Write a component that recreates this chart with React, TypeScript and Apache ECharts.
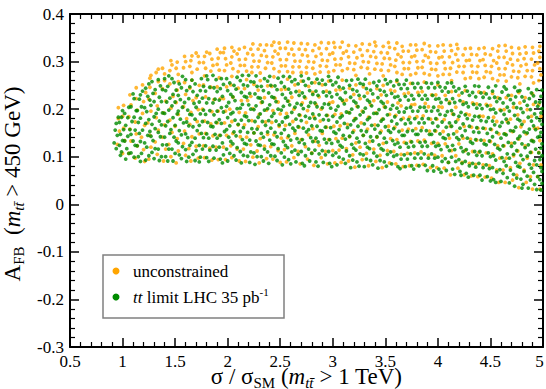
import React, { useEffect, useRef } from "react";
import * as echarts from "echarts";

// Points stored as [x*100, y*1000] flat pairs.
const GREEN_XY: number[] = [
94,117, 92,129, 95,145, 93,156, 94,170, 96,183,
98,103, 99,110, 97,124, 100,134, 98,147, 101,157, 97,172, 99,183, 100,197,
103,95, 106,107, 104,117, 102,133, 105,143, 107,157, 103,166, 105,182, 102,191, 106,204,
111,99, 108,108, 112,124, 110,133, 108,147, 112,156, 109,174, 111,183, 113,197, 108,205, 111,222, 110,232,
117,90, 115,100, 118,107, 114,123, 117,132, 116,149, 119,156, 115,172, 117,181, 114,197, 118,205, 116,221, 117,230, 119,238,
122,93, 125,102, 123,120, 121,129, 124,145, 126,153, 122,170, 125,178, 123,195, 121,203, 126,219, 124,227, 122,244, 125,253,
130,96, 128,109, 131,117, 129,134, 127,143, 131,159, 128,168, 130,184, 132,191, 127,208, 130,216, 129,233, 131,241, 128,258,
135,92, 137,100, 134,116, 138,125, 136,142, 134,151, 137,167, 135,175, 138,192, 134,200, 137,216, 135,225, 138,241, 136,249, 134,262,
143,91, 141,100, 144,116, 142,125, 140,141, 145,149, 141,165, 143,174, 140,191, 144,198, 142,215, 145,223, 141,239, 143,248, 140,264, 144,270,
148,91, 150,107, 147,116, 151,133, 149,141, 146,157, 150,166, 148,182, 152,190, 147,207, 150,215, 148,231, 151,240, 149,256, 147,264,
156,96, 154,104, 157,121, 153,129, 156,146, 154,155, 158,171, 155,179, 153,196, 157,204, 155,220, 153,229, 156,245, 154,253, 157,269,
161,90, 163,99, 160,115, 164,124, 162,140, 160,148, 163,165, 161,173, 164,189, 162,198, 159,214, 163,222, 161,239, 164,247, 160,262,
169,92, 167,105, 170,113, 166,130, 169,139, 171,155, 167,163, 169,179, 166,188, 170,204, 168,212, 171,229, 167,237, 169,253, 166,261,
173,89, 174,99, 176,116, 173,124, 177,140, 175,149, 173,166, 176,174, 174,190, 177,198, 173,215, 176,223, 174,239, 177,248, 175,264,
182,90, 180,98, 183,114, 179,123, 182,139, 180,148, 184,164, 181,172, 179,189, 183,197, 180,213, 182,222, 179,238, 183,246, 181,262, 180,270,
187,97, 189,114, 186,122, 190,139, 188,147, 186,163, 189,172, 187,188, 190,196, 186,213, 188,221, 190,237, 187,245, 189,262, 186,271,
195,87, 193,95, 196,104, 192,120, 195,129, 193,145, 197,153, 194,170, 192,178, 196,194, 194,203, 192,219, 195,227, 193,243, 196,252, 194,264,
200,91, 202,107, 199,116, 203,132, 201,141, 199,157, 202,165, 200,182, 203,190, 199,206, 201,214, 203,231, 200,239, 202,255, 199,264,
208,93, 206,102, 209,119, 205,127, 208,144, 206,152, 210,168, 207,177, 205,193, 209,201, 207,218, 205,226, 208,242, 206,250, 209,267,
213,87, 215,103, 212,111, 216,128, 214,136, 212,153, 215,161, 213,177, 216,186, 212,202, 214,210, 216,227, 213,235, 215,251, 212,260, 214,271,
221,88, 219,101, 222,110, 218,126, 221,135, 219,151, 223,159, 220,176, 218,184, 222,200, 220,209, 218,225, 221,233, 219,249, 222,258, 220,271,
226,84, 228,100, 225,108, 229,125, 227,133, 225,150, 228,158, 226,174, 229,183, 225,199, 227,207, 229,224, 226,232, 228,248, 225,257, 227,270,
234,91, 232,100, 235,116, 231,124, 234,141, 232,149, 236,166, 233,174, 231,190, 235,198, 233,215, 231,223, 234,239, 232,248, 235,264,
239,86, 241,102, 238,110, 242,127, 240,135, 238,152, 241,160, 239,176, 242,185, 238,201, 240,209, 242,226, 239,234, 241,250, 238,259, 240,269,
247,92, 245,101, 248,117, 244,126, 247,142, 245,151, 249,167, 246,175, 244,191, 248,200, 246,216, 244,224, 247,241, 245,249, 248,265,
252,83, 254,99, 251,108, 255,124, 253,132, 251,149, 254,157, 252,173, 255,182, 251,198, 253,206, 255,223, 252,231, 254,247, 251,256, 253,269,
260,85, 258,94, 261,110, 257,119, 260,135, 258,144, 262,160, 259,168, 257,184, 261,193, 259,209, 257,217, 260,234, 258,242, 261,258, 259,268,
265,89, 267,105, 264,114, 268,130, 266,138, 264,155, 267,163, 265,179, 268,188, 264,204, 266,212, 268,229, 265,237, 267,253, 264,262,
273,81, 271,86, 274,102, 270,111, 273,127, 271,136, 275,152, 272,160, 270,176, 274,185, 272,201, 270,209, 273,226, 271,234, 274,250, 272,259, 270,270,
278,91, 280,107, 277,116, 281,132, 279,140, 277,157, 280,165, 278,181, 281,190, 277,206, 279,214, 281,231, 278,239, 280,255, 277,264,
286,80, 284,89, 287,106, 283,114, 286,131, 284,139, 288,155, 285,164, 283,180, 287,188, 285,205, 283,213, 286,229, 284,238, 287,254, 285,263,
291,88, 293,104, 290,113, 294,129, 292,137, 290,154, 293,162, 291,178, 294,187, 290,203, 292,211, 294,228, 291,236, 293,252, 290,261,
299,79, 297,86, 300,103, 296,111, 299,128, 297,136, 301,152, 298,161, 296,177, 300,185, 298,202, 296,210, 299,226, 297,235, 300,251, 298,260, 296,269,
304,83, 306,99, 303,108, 307,124, 305,132, 303,149, 306,157, 304,173, 307,182, 303,198, 305,206, 307,223, 304,231, 306,247, 303,256, 305,267,
312,86, 310,95, 313,112, 309,120, 312,137, 310,145, 314,161, 311,170, 309,186, 313,194, 311,211, 309,219, 312,235, 310,244, 313,260,
317,77, 319,93, 316,102, 320,118, 318,126, 316,143, 319,151, 317,167, 320,176, 316,192, 318,200, 320,217, 317,225, 319,241, 316,250, 318,261,
325,80, 323,89, 326,106, 322,114, 325,131, 323,139, 327,155, 324,164, 322,180, 326,188, 324,205, 322,213, 325,229, 323,238, 326,254, 324,263,
330,79, 332,95, 329,104, 333,120, 331,128, 329,145, 332,153, 330,169, 333,178, 329,194, 331,202, 333,219, 330,227, 332,243, 329,252, 331,263,
338,83, 336,92, 339,108, 335,117, 338,133, 336,142, 340,158, 337,166, 335,182, 339,191, 337,207, 335,215, 338,232, 336,240, 339,256,
343,76, 345,92, 342,101, 346,117, 344,125, 342,142, 345,150, 343,166, 346,175, 342,191, 344,199, 346,216, 343,224, 345,240, 342,249, 344,259,
351,80, 349,89, 352,105, 348,114, 351,130, 349,139, 353,155, 350,163, 348,179, 352,188, 350,204, 348,212, 351,229, 349,237, 352,253, 350,262,
356,85, 358,101, 355,110, 359,126, 357,134, 355,151, 358,159, 356,175, 359,184, 355,200, 357,208, 359,225, 356,233, 358,249, 355,258,
364,75, 362,79, 365,95, 361,104, 364,120, 362,129, 366,145, 363,153, 361,169, 365,178, 363,194, 361,202, 364,219, 362,227, 365,243, 363,252, 361,261,
369,79, 371,95, 368,104, 372,120, 370,128, 368,145, 371,153, 369,169, 372,178, 368,194, 370,202, 372,219, 369,227, 371,243, 368,252, 370,261,
377,74, 375,81, 378,97, 374,106, 377,122, 375,131, 379,147, 376,155, 374,171, 378,180, 376,196, 374,204, 377,221, 375,229, 378,245, 376,254,
382,81, 384,97, 381,106, 385,122, 383,130, 381,147, 384,155, 382,171, 385,180, 381,196, 383,204, 385,221, 382,229, 384,245, 381,254,
390,71, 388,82, 391,97, 387,106, 390,122, 388,131, 392,147, 389,155, 387,171, 391,180, 389,196, 387,204, 390,221, 388,229, 391,245, 389,255,
396,70, 395,81, 397,97, 394,106, 398,122, 396,130, 394,147, 397,155, 395,171, 398,180, 394,196, 396,204, 398,221, 395,229, 397,245, 394,254,
403,67, 401,74, 404,90, 400,99, 403,115, 401,124, 405,140, 402,148, 400,164, 404,173, 402,189, 400,197, 403,214, 401,222, 404,238, 402,247, 400,256,
408,71, 410,88, 407,96, 411,113, 409,121, 407,138, 410,146, 408,162, 411,171, 407,187, 409,195, 411,212, 408,220, 410,236, 407,245, 409,255,
416,63, 414,74, 417,90, 413,99, 416,115, 414,124, 418,140, 415,148, 413,164, 417,173, 415,189, 413,197, 416,214, 414,222, 417,238, 415,247, 413,255,
422,61, 421,69, 423,86, 420,94, 424,111, 422,119, 420,136, 423,144, 421,160, 424,169, 420,185, 422,193, 424,210, 421,218, 423,234, 420,243,
429,57, 427,65, 430,81, 426,90, 429,106, 427,115, 431,131, 428,139, 426,155, 430,164, 428,180, 426,188, 429,205, 427,213, 430,229, 428,238, 426,248,
434,61, 436,78, 433,86, 437,103, 435,111, 433,128, 436,136, 434,152, 437,161, 433,177, 435,185, 437,202, 434,210, 436,226, 433,235, 435,249,
442,51, 440,61, 443,77, 439,86, 442,102, 440,111, 444,127, 441,135, 439,151, 443,160, 441,176, 439,184, 442,201, 440,209, 443,225, 441,234, 439,248,
450,49, 447,58, 449,75, 446,83, 450,100, 448,108, 446,125, 449,133, 447,149, 450,158, 446,174, 448,182, 450,199, 447,207, 449,223, 446,232, 448,246,
455,46, 453,52, 456,68, 452,77, 455,93, 453,102, 457,118, 454,126, 452,142, 456,151, 454,167, 452,175, 455,192, 453,200, 456,216, 454,225, 452,238, 455,249,
460,48, 462,65, 459,73, 463,90, 461,98, 459,115, 462,123, 460,139, 463,148, 459,164, 461,172, 463,189, 460,197, 462,213, 459,222, 461,236, 463,247,
468,45, 466,56, 469,72, 465,81, 468,97, 466,106, 470,122, 467,130, 465,146, 469,155, 467,171, 465,179, 468,196, 466,204, 469,220, 467,229, 465,242,
473,38, 475,55, 472,63, 476,80, 474,88, 472,105, 475,113, 473,129, 476,138, 472,154, 474,162, 476,179, 473,187, 475,203, 472,212, 474,226, 476,238, 473,246,
480,34, 481,42, 479,53, 482,69, 478,78, 481,94, 479,103, 483,119, 480,127, 478,143, 482,152, 480,168, 478,176, 481,193, 479,201, 482,217, 480,226, 478,239,
486,34, 488,51, 485,59, 489,76, 487,84, 485,101, 488,109, 486,125, 489,134, 485,150, 487,158, 489,175, 486,183, 488,199, 485,208, 487,222, 489,234, 486,243,
494,31, 492,42, 495,58, 491,67, 494,83, 492,92, 496,108, 493,116, 491,132, 495,141, 493,157, 491,165, 494,182, 492,190, 495,206, 493,215, 491,228, 494,241,
498,30, 499,44, 497,52, 499,69, 498,77, 497,94, 499,102, 498,118, 499,127, 497,143, 498,151, 499,168, 497,176, 498,192, 499,201, 497,215, 498,227, 499,240,
];

const ORANGE_XY: number[] = [
96,203, 95,126, 97,154, 96,180,
101,208, 100,107, 102,134, 101,160, 100,185,
107,230, 106,107, 108,133, 107,158, 106,184, 108,209,
113,245, 112,97, 114,123, 113,148, 112,173, 114,198, 113,222,
119,251, 121,90, 120,115, 118,141, 121,166, 119,191, 120,216, 122,235,
126,265, 127,271, 125,95, 127,120, 126,145, 124,171, 127,196, 125,221, 126,246,
132,277, 134,284, 133,105, 131,131, 134,156, 132,182, 133,207, 131,233, 134,258,
140,274, 138,286, 139,91, 141,116, 138,141, 140,167, 139,192, 141,217, 138,243, 140,260,
145,281, 147,293, 146,302, 146,100, 144,126, 147,151, 145,177, 146,202, 148,227, 145,253,
153,273, 151,286, 152,299, 151,87, 153,112, 152,138, 150,164, 153,189, 151,214, 152,240, 153,258,
158,287, 160,300, 159,311, 160,103, 158,128, 159,154, 161,180, 158,205, 160,231, 159,256,
166,277, 164,290, 165,302, 166,312, 165,91, 163,117, 166,142, 164,168, 165,193, 167,218, 164,244, 166,261,
171,284, 173,298, 172,311, 170,318, 172,97, 170,122, 173,148, 171,174, 172,199, 170,224, 173,250,
179,286, 177,298, 178,311, 180,320, 178,98, 177,123, 179,149, 178,175, 176,200, 179,226, 177,251, 178,270,
184,280, 186,292, 185,305, 183,317, 185,93, 183,118, 186,144, 184,169, 185,195, 187,220, 184,246,
192,282, 190,294, 191,307, 193,319, 190,326, 191,94, 189,120, 192,145, 190,171, 191,196, 193,222, 190,247, 192,266,
197,281, 199,293, 198,306, 196,319, 197,328, 198,94, 196,120, 199,145, 197,171, 198,196, 196,222, 199,247,
205,285, 203,297, 204,310, 206,322, 204,330, 204,98, 203,123, 205,149, 204,174, 202,200, 205,225, 203,251, 204,269,
210,279, 212,292, 211,304, 209,316, 211,326, 211,91, 209,116, 212,142, 210,167, 211,193, 213,218, 210,244,
218,280, 216,292, 217,305, 219,317, 216,330, 217,90, 215,116, 218,141, 216,167, 217,192, 219,218, 216,243, 218,262,
223,277, 223,289, 225,301, 224,314, 222,326, 224,337, 224,99, 222,125, 225,150, 223,176, 224,201, 222,227, 225,252,
231,276, 229,289, 230,301, 232,313, 229,326, 231,335, 230,87, 228,112, 231,138, 229,163, 230,189, 232,214, 229,240, 231,260,
236,286, 238,298, 237,311, 235,323, 237,335, 237,96, 235,122, 238,147, 236,173, 237,198, 235,224, 238,249,
244,285, 242,297, 243,310, 245,322, 242,334, 244,341, 243,95, 241,121, 244,146, 242,172, 243,197, 245,223, 242,248, 244,268,
249,279, 251,291, 250,304, 248,316, 250,328, 249,339, 250,88, 248,113, 251,139, 249,164, 250,190, 248,215, 251,241,
257,279, 255,291, 256,304, 258,316, 255,328, 257,341, 256,89, 254,115, 257,140, 255,166, 256,191, 258,217, 255,242, 257,263,
262,277, 262,289, 264,301, 263,314, 261,326, 263,339, 263,98, 261,123, 264,149, 262,174, 263,200, 261,225, 264,251,
270,277, 268,289, 269,301, 271,314, 268,326, 270,338, 269,85, 267,111, 270,136, 268,162, 269,187, 271,213, 268,238, 270,259,
275,276, 275,288, 277,300, 276,312, 274,325, 276,337, 276,95, 274,121, 277,146, 275,172, 276,197, 274,223, 277,248,
283,274, 281,286, 282,299, 284,311, 281,323, 283,335, 282,82, 280,108, 283,133, 281,159, 282,184, 284,210, 281,235, 283,256,
288,278, 288,291, 290,303, 289,316, 287,328, 289,340, 289,98, 287,124, 290,149, 288,175, 289,200, 287,226, 290,251,
296,278, 294,290, 295,302, 297,315, 294,327, 296,339, 295,85, 293,111, 296,136, 294,162, 295,187, 297,213, 294,238, 296,259,
301,281, 303,293, 302,305, 300,318, 302,330, 301,340, 302,87, 300,113, 303,138, 301,164, 302,189, 300,215, 303,240,
309,281, 307,293, 308,306, 310,318, 307,330, 309,341, 308,88, 306,114, 309,139, 307,165, 308,190, 310,216, 307,241, 309,261,
314,285, 316,297, 315,310, 313,322, 315,334, 315,91, 313,117, 316,142, 314,168, 315,193, 313,219, 316,244,
322,271, 320,283, 321,296, 323,308, 320,320, 322,333, 321,78, 319,104, 322,129, 320,155, 321,180, 323,206, 320,231, 322,251,
327,288, 329,300, 328,313, 326,325, 328,337, 328,94, 326,120, 329,145, 327,171, 328,196, 326,222, 329,247,
335,274, 333,286, 334,299, 336,311, 333,323, 335,336, 334,81, 332,107, 335,132, 333,158, 334,183, 336,209, 333,234, 335,254,
340,284, 342,296, 341,309, 339,321, 341,333, 340,341, 341,90, 339,116, 342,141, 340,167, 341,192, 339,218, 342,243,
348,270, 346,282, 347,295, 349,307, 346,319, 348,332, 347,77, 345,103, 348,128, 346,154, 347,179, 349,205, 346,230, 348,250,
353,281, 355,293, 354,306, 352,318, 354,330, 353,340, 354,87, 352,113, 355,138, 353,164, 354,189, 352,215, 355,240,
361,277, 359,290, 360,303, 362,315, 359,327, 361,339, 360,85, 358,111, 361,136, 359,162, 360,187, 362,213, 359,238, 361,258,
366,273, 368,285, 367,298, 365,310, 367,322, 366,332, 367,79, 365,105, 368,130, 366,156, 367,181, 365,207, 368,232,
374,272, 372,285, 373,298, 375,310, 372,322, 374,335, 373,81, 371,107, 374,132, 372,158, 373,183, 375,209, 372,234, 374,254,
379,275, 381,287, 380,300, 378,312, 380,324, 379,335, 380,82, 378,108, 381,133, 379,159, 380,184, 378,210, 381,235,
387,275, 385,288, 386,301, 388,313, 385,325, 387,338, 386,84, 384,110, 387,135, 385,161, 386,186, 388,212, 385,237, 387,257,
392,272, 394,284, 393,297, 391,309, 393,321, 392,333, 393,77, 391,103, 394,128, 392,154, 393,179, 391,205, 394,230,
400,270, 398,283, 399,296, 401,308, 398,320, 400,333, 399,77, 397,103, 400,128, 398,154, 399,179, 401,205, 398,230, 400,251,
405,273, 407,285, 406,298, 404,310, 406,322, 405,335, 406,76, 404,102, 407,127, 405,153, 406,178, 404,204, 407,229,
413,260, 411,273, 412,286, 414,298, 411,310, 413,323, 412,334, 412,62, 410,88, 413,113, 411,139, 412,164, 414,190, 411,215, 413,237,
418,278, 420,290, 419,303, 417,315, 419,327, 418,336, 419,76, 417,102, 420,127, 418,153, 419,178, 417,204, 420,229,
426,264, 424,277, 425,290, 427,302, 424,314, 426,327, 425,62, 423,88, 426,113, 424,139, 425,164, 427,190, 424,215, 426,239,
431,266, 433,278, 432,291, 430,303, 432,315, 431,328, 432,60, 430,86, 433,111, 431,137, 432,162, 430,188, 433,213,
439,264, 437,277, 438,290, 440,302, 437,314, 439,327, 438,58, 436,84, 439,109, 437,135, 438,160, 440,186, 437,211, 439,236,
444,267, 446,279, 445,292, 443,304, 445,316, 444,329, 445,57, 443,83, 446,108, 444,134, 445,159, 443,185, 446,210, 444,235,
452,264, 450,277, 451,290, 453,302, 450,314, 452,327, 451,55, 449,81, 452,106, 450,132, 451,157, 453,183, 450,208, 452,233,
457,260, 459,272, 458,285, 456,297, 458,309, 457,322, 458,333, 458,46, 456,72, 459,97, 457,123, 458,148, 456,174, 459,199, 457,224,
465,259, 463,272, 464,285, 466,297, 463,309, 465,322, 464,334, 464,46, 462,72, 465,97, 463,123, 464,148, 466,174, 463,199, 465,224,
470,268, 472,280, 471,293, 469,305, 471,317, 470,330, 471,51, 469,77, 472,102, 470,128, 471,153, 469,179, 472,204, 470,229,
478,253, 476,266, 477,279, 479,291, 476,303, 478,316, 477,328, 477,35, 475,61, 478,86, 476,112, 477,137, 479,163, 476,188, 478,213, 477,235,
483,269, 485,281, 484,294, 482,306, 484,318, 483,331, 484,46, 482,72, 485,97, 483,123, 484,148, 482,174, 485,199, 483,224,
491,255, 489,268, 490,281, 492,293, 489,305, 491,318, 490,330, 490,32, 488,58, 491,83, 489,109, 490,134, 492,160, 489,185, 491,210, 490,232,
496,260, 498,272, 497,285, 495,297, 497,309, 496,322, 497,332, 497,32, 495,58, 498,83, 496,109, 497,134, 495,160, 498,185, 496,210,
];

const SERIES_NAMES = ["unconstrained", "tt limit LHC 35 pb-1"];
const X_RANGE = [0.5, 5];
const Y_RANGE = [-0.3, 0.4];

const ORANGE = "#FFA500";
const GREEN = "#008B00";
const FONT = "'Liberation Serif', 'Times New Roman', Times, serif";

function toPoints(flat: number[]): number[][] {
  const out: number[][] = [];
  for (let i = 0; i + 1 < flat.length; i += 2) {
    out.push([flat[i] / 100, flat[i + 1] / 1000]);
  }
  return out;
}

function fmt(v: number): string {
  const r = Math.round(v * 10) / 10;
  return String(r);
}

export default function App() {
  const ref = useRef<HTMLDivElement>(null);

  useEffect(() => {
    document.body.style.margin = "0";
    if (!ref.current) return;
    const chart = echarts.init(ref.current, undefined, { renderer: "svg" });

    const tickCommon = {
      axisLine: { show: true, onZero: false, lineStyle: { color: "#000", width: 2 } },
      axisTick: { show: true, inside: true, length: 9, lineStyle: { color: "#000", width: 1.5 } },
      minorTick: { show: true, splitNumber: 5, length: 5, lineStyle: { color: "#000", width: 1.2 } },
      splitLine: { show: false },
      minorSplitLine: { show: false },
    };

    const tickRich = {
      t: { fontFamily: FONT, fontSize: 17, color: "#000" },
      e: { fontFamily: FONT, fontSize: 17, color: "#000", padding: [0, 7, 0, 0] },
    };

    const nameRich = {
      n: { fontFamily: FONT, fontSize: 23, color: "#000", lineHeight: 28 },
      i: { fontFamily: FONT, fontSize: 23, color: "#000", fontStyle: "italic", lineHeight: 28 },
      s: { fontFamily: FONT, fontSize: 15, color: "#000", lineHeight: 15, verticalAlign: "bottom" },
      si: { fontFamily: FONT, fontSize: 15, color: "#000", fontStyle: "italic", lineHeight: 15, verticalAlign: "bottom" },
    };

    chart.setOption({
      animation: false,
      backgroundColor: "#fff",
      textStyle: { fontFamily: FONT },
      grid: { left: 70, right: 3, top: 14, bottom: 42, containLabel: false, outerBoundsMode: "none" },
      xAxis: [
        {
          type: "value",
          position: "bottom",
          min: X_RANGE[0],
          max: X_RANGE[1],
          interval: 0.5,
          ...tickCommon,
          axisLabel: {
            margin: 6,
            showMinLabel: true,
            showMaxLabel: true,
            formatter: (v: number) => (Math.abs(v - X_RANGE[1]) < 1e-9 ? `{e|${fmt(v)}}` : `{t|${fmt(v)}}`),
            rich: tickRich,
          },
          name: "{n|σ / σ}{s|SM}{n| (}{i|m}{si|tt\u0304}{n| > 1 TeV)}",
          nameLocation: "middle",
          nameGap: 15,
          nameMoveOverlap: false,
          nameTextStyle: { fontFamily: FONT, rich: nameRich },
        },
        {
          type: "value",
          position: "top",
          min: X_RANGE[0],
          max: X_RANGE[1],
          interval: 0.5,
          ...tickCommon,
          axisLabel: { show: false },
        },
      ],
      yAxis: [
        {
          type: "value",
          position: "left",
          min: Y_RANGE[0],
          max: Y_RANGE[1],
          interval: 0.1,
          ...tickCommon,
          axisLabel: {
            margin: 6,
            showMinLabel: true,
            showMaxLabel: true,
            formatter: (v: number) => `{t|${fmt(v)}}`,
            rich: tickRich,
          },
          name: "{n|A}{s|FB}{n|  (}{i|m}{si|tt\u0304}{n| > 450 GeV)}",
          nameLocation: "middle",
          nameGap: 36,
          nameTextStyle: { fontFamily: FONT, rich: nameRich, padding: [0, 7, 0, 0] },
        },
        {
          type: "value",
          position: "right",
          min: Y_RANGE[0],
          max: Y_RANGE[1],
          interval: 0.1,
          ...tickCommon,
          axisLabel: { show: false },
        },
      ],
      series: [
        {
          name: SERIES_NAMES[0],
          type: "scatter",
          symbol: "circle",
          symbolSize: 3.8,
          itemStyle: { color: ORANGE },
          data: toPoints(ORANGE_XY),
          z: 2,
        },
        {
          name: SERIES_NAMES[1],
          type: "scatter",
          symbol: "circle",
          symbolSize: 3.8,
          itemStyle: { color: GREEN },
          data: toPoints(GREEN_XY),
          z: 3,
        },
      ],
      graphic: [
        {
          type: "group",
          z: 100,
          children: [
            {
              type: "rect",
              shape: { x: 103, y: 255, width: 181, height: 63 },
              style: { fill: "#fff", stroke: "#808080", lineWidth: 1.5 },
            },
            { type: "circle", shape: { cx: 116, cy: 271, r: 3.5 }, style: { fill: ORANGE } },
            { type: "circle", shape: { cx: 116, cy: 297, r: 3.5 }, style: { fill: GREEN } },
            {
              type: "text",
              x: 133,
              y: 271,
              style: {
                text: "{r|unconstrained}",
                verticalAlign: "middle",
                rich: {
                  r: { fontFamily: FONT, fontSize: 17, fill: "#000", lineHeight: 22 },
                },
              },
            },
            {
              type: "text",
              x: 133,
              y: 297,
              style: {
                text: "{i|tt}{r| limit LHC 35 pb}{sup|-1}",
                verticalAlign: "middle",
                rich: {
                  r: { fontFamily: FONT, fontSize: 17, fill: "#000", lineHeight: 22 },
                  i: { fontFamily: FONT, fontSize: 17, fontStyle: "italic", fill: "#000", lineHeight: 22 },
                  sup: { fontFamily: FONT, fontSize: 11, fill: "#000", lineHeight: 11, verticalAlign: "top" },
                },
              },
            },
          ],
        },
      ],
    });

    return () => chart.dispose();
  }, []);

  return <div ref={ref} style={{ width: 546, height: 389 }} />;
}
